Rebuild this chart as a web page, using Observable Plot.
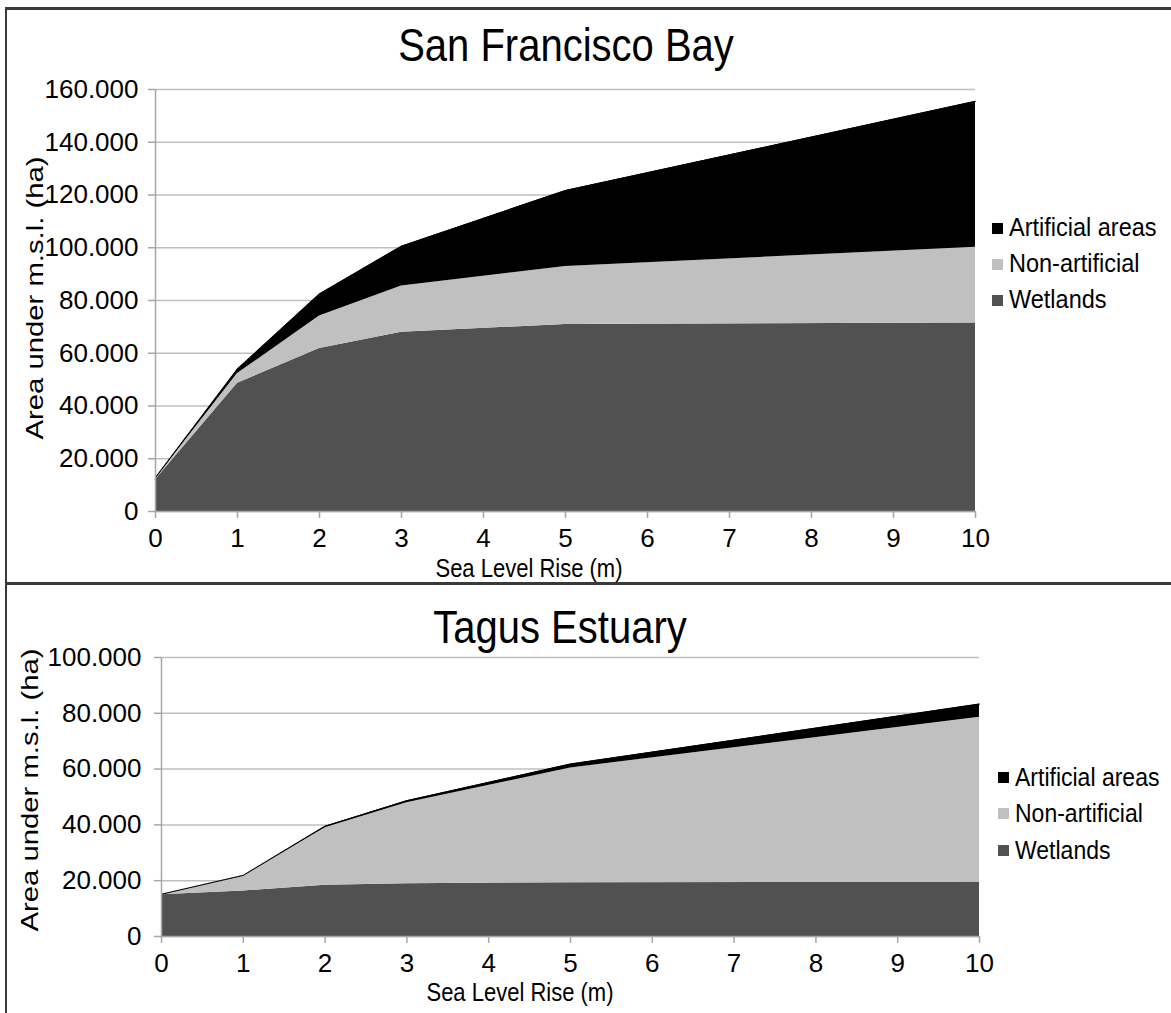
<!DOCTYPE html>
<html><head><meta charset="utf-8">
<script src="https://cdn.jsdelivr.net/npm/d3@7"></script>
<script src="https://cdn.jsdelivr.net/npm/@observablehq/plot@0.6"></script>
<style>
body{margin:0;background:#fff;font-family:"Liberation Sans",Arial,sans-serif;}
#root{position:relative;width:1171px;height:1013px;overflow:hidden;background:#fff;}
.border{position:absolute;border-left:2px solid #3a3a3a;border-top:3px solid #3a3a3a;box-sizing:border-box;}
.t{position:absolute;white-space:nowrap;color:#000;transform:translate(-50%,-50%) scale(1,1.15);line-height:1;}
.rot{transform:translate(-50%,-50%) rotate(-90deg) scale(1.22,1);}
.leg{position:absolute;white-space:nowrap;color:#000;line-height:1;}
.leg div{display:flex;align-items:center;}
.leg span.sw{display:inline-block;width:11px;height:11px;margin-right:6px;}
.leg span.lt{display:inline-block;transform:scale(1,1.12);}
svg{position:absolute;left:0;overflow:visible;}
</style></head>
<body><div id="root"></div>
<script>
// ---- data ----
const seriesNames = ["Wetlands", "Non-artificial", "Artificial areas"];
const seriesColors = ["#515151", "#c0c0c0", "#000000"];
const slr = [0, 1, 2, 3, 5, 10];
const xTicks = [0, 1, 2, 3, 4, 5, 6, 7, 8, 9, 10];

const sfWetlands      = [12000, 48600, 61800, 68000, 70900, 71500];
const sfNonArtificial = [500, 3700, 12300, 17500, 22000, 28700];
const sfArtificial    = [300, 1700, 8400, 15100, 28800, 55300];
const sfYTicks = [0, 20000, 40000, 60000, 80000, 100000, 120000, 140000, 160000];

const tgWetlands      = [15000, 16300, 18400, 18900, 19300, 19400];
const tgNonArtificial = [100, 5500, 20600, 29000, 41100, 59200];
const tgArtificial    = [50, 100, 500, 800, 1400, 4700];
const tgYTicks = [0, 20000, 40000, 60000, 80000, 100000];

const fmt = d3.formatLocale({decimal: ",", thousands: ".", grouping: [3], currency: ["", ""]}).format(",");

function toRows(w, n, a) {
  const rows = [];
  slr.forEach((x, i) => {
    rows.push({x, series: seriesNames[0], value: w[i]});
    rows.push({x, series: seriesNames[1], value: n[i]});
    rows.push({x, series: seriesNames[2], value: a[i]});
  });
  return rows;
}
function totals(w, n, a) { return slr.map((x, i) => ({x, total: w[i] + n[i] + a[i]})); }

function chart(w, n, a, yTicks, g) {
  const rows = toRows(w, n, a);
  return Plot.plot({
    width: 1171, height: g.height,
    marginLeft: g.left, marginRight: 1171 - g.right, marginTop: g.top, marginBottom: g.height - g.bottom,
    style: {fontFamily: '"Liberation Sans", Arial, sans-serif', fontSize: "26px", color: "#000", background: "transparent"},
    x: {domain: [0, 10]},
    y: {domain: [0, yTicks[yTicks.length - 1]]},
    color: {domain: seriesNames, range: seriesColors},
    marks: [
      Plot.gridY(yTicks, {stroke: "#bfbfbf", strokeOpacity: 1, strokeWidth: 1.5}),
      Plot.areaY(rows, {x: "x", y: "value", fill: "series", order: seriesNames}),
      Plot.lineY(totals(w, n, a), {x: "x", y: "total", stroke: "#000", strokeWidth: 1}),
      Plot.ruleX([0], {stroke: "#a6a6a6", strokeWidth: 1.5}),
      Plot.ruleY([0], {stroke: "#a6a6a6", strokeWidth: 1.5}),
      Plot.axisY(yTicks, {tickFormat: fmt, tickSize: 7, tickPadding: g.ypad, stroke: "#a6a6a6", strokeWidth: 1.5, label: null, fontSize: 26}),
      Plot.axisX(xTicks, {tickSize: 7, tickPadding: 10, stroke: "#a6a6a6", strokeWidth: 1.5, label: null, fontSize: 26})
    ]
  });
}

const root = document.getElementById("root");
function addText(txt, x, y, size, cls) {
  const d = document.createElement("div");
  d.className = "t" + (cls ? " " + cls : "");
  d.style.left = x + "px"; d.style.top = y + "px"; d.style.fontSize = size + "px";
  d.textContent = txt; root.appendChild(d);
}
function addLegend(x, y, gap, size) {
  const l = document.createElement("div");
  l.className = "leg"; l.style.left = x + "px"; l.style.top = y + "px"; l.style.fontSize = size + "px";
  [2, 1, 0].forEach((i, k) => {
    const r = document.createElement("div");
    r.style.height = gap + "px";
    const s = document.createElement("span"); s.className = "sw"; s.style.background = seriesColors[i];
    const t = document.createElement("span"); t.className = "lt"; t.textContent = seriesNames[i];
    r.appendChild(s); r.appendChild(t);
    l.appendChild(r);
  });
  root.appendChild(l);
}

// panel borders
const b1 = document.createElement("div"); b1.className = "border";
Object.assign(b1.style, {left: "5px", top: "7px", width: "1200px", height: "600px"}); root.appendChild(b1);
const b2 = document.createElement("div"); b2.className = "border";
Object.assign(b2.style, {left: "5px", top: "582px", width: "1200px", height: "600px"}); root.appendChild(b2);

// top chart
const c1 = chart(sfWetlands, sfNonArtificial, sfArtificial, sfYTicks, {height: 583, left: 155, right: 975, top: 89, bottom: 511, ypad: 10});
c1.style.top = "0px"; root.appendChild(c1);
addText("San Francisco Bay", 566, 45, 40);
addText("Area under m.s.l. (ha)", 35, 298, 24, "rot");
addText("Sea Level Rise (m)", 529, 569, 22);
addLegend(992, 210, 36, 23.5);

// bottom chart
const c2 = chart(tgWetlands, tgNonArtificial, tgArtificial, tgYTicks, {height: 430, left: 161, right: 979, top: 74, bottom: 353, ypad: 13});
c2.style.top = "583px"; root.appendChild(c2);
addText("Tagus Estuary", 560, 627, 40);
addText("Area under m.s.l. (ha)", 30, 790, 24, "rot");
addText("Sea Level Rise (m)", 520, 993, 22);
addLegend(998, 759, 36.5, 23);
</script></body></html>
